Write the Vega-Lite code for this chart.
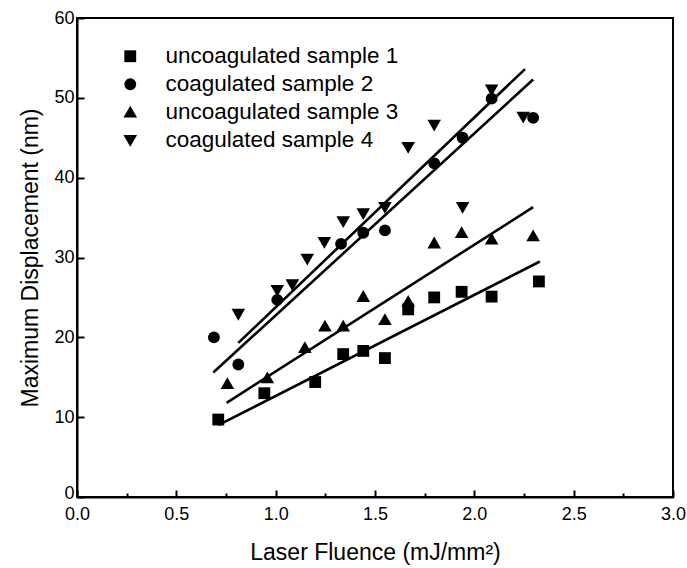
{
  "$schema": "https://vega.github.io/schema/vega-lite/v6.json",
  "autosize": {"type": "none"},
  "width": 596,
  "height": 479,
  "padding": {"left": 77, "top": 18, "right": 14, "bottom": 71},
  "background": "white",
  "config": {
    "font": "Liberation Sans",
    "view": {"stroke": "#000", "strokeWidth": 2},
    "axis": {"grid": false, "domainColor": "#000", "domainWidth": 2, "tickColor": "#000", "tickWidth": 2, "labelColor": "#000", "titleColor": "#000", "labelFont": "Liberation Sans", "titleFont": "Liberation Sans", "titleFontWeight": "normal"}
  },
  "datasets": {
    "points": [
      {"sample": "uncoagulated sample 1", "fluence": 0.711, "disp": 9.7},
      {"sample": "uncoagulated sample 1", "fluence": 0.943, "disp": 13.0},
      {"sample": "uncoagulated sample 1", "fluence": 1.199, "disp": 14.4},
      {"sample": "uncoagulated sample 1", "fluence": 1.340, "disp": 17.9},
      {"sample": "uncoagulated sample 1", "fluence": 1.441, "disp": 18.3},
      {"sample": "uncoagulated sample 1", "fluence": 1.550, "disp": 17.4},
      {"sample": "uncoagulated sample 1", "fluence": 1.667, "disp": 23.5},
      {"sample": "uncoagulated sample 1", "fluence": 1.798, "disp": 25.0},
      {"sample": "uncoagulated sample 1", "fluence": 1.936, "disp": 25.7},
      {"sample": "uncoagulated sample 1", "fluence": 2.087, "disp": 25.1},
      {"sample": "uncoagulated sample 1", "fluence": 2.325, "disp": 27.0},
      {"sample": "coagulated sample 2", "fluence": 0.689, "disp": 20.0},
      {"sample": "coagulated sample 2", "fluence": 0.812, "disp": 16.6},
      {"sample": "coagulated sample 2", "fluence": 1.008, "disp": 24.7},
      {"sample": "coagulated sample 2", "fluence": 1.329, "disp": 31.7},
      {"sample": "coagulated sample 2", "fluence": 1.441, "disp": 33.1},
      {"sample": "coagulated sample 2", "fluence": 1.550, "disp": 33.4},
      {"sample": "coagulated sample 2", "fluence": 1.798, "disp": 41.8},
      {"sample": "coagulated sample 2", "fluence": 1.941, "disp": 45.0},
      {"sample": "coagulated sample 2", "fluence": 2.087, "disp": 49.9},
      {"sample": "coagulated sample 2", "fluence": 2.296, "disp": 47.5},
      {"sample": "uncoagulated sample 3", "fluence": 0.757, "disp": 14.2},
      {"sample": "uncoagulated sample 3", "fluence": 0.958, "disp": 14.9},
      {"sample": "uncoagulated sample 3", "fluence": 1.147, "disp": 18.7},
      {"sample": "uncoagulated sample 3", "fluence": 1.248, "disp": 21.4},
      {"sample": "uncoagulated sample 3", "fluence": 1.340, "disp": 21.4},
      {"sample": "uncoagulated sample 3", "fluence": 1.441, "disp": 25.1},
      {"sample": "uncoagulated sample 3", "fluence": 1.550, "disp": 22.2},
      {"sample": "uncoagulated sample 3", "fluence": 1.667, "disp": 24.5},
      {"sample": "uncoagulated sample 3", "fluence": 1.798, "disp": 31.8},
      {"sample": "uncoagulated sample 3", "fluence": 1.936, "disp": 33.1},
      {"sample": "uncoagulated sample 3", "fluence": 2.087, "disp": 32.3},
      {"sample": "uncoagulated sample 3", "fluence": 2.296, "disp": 32.7},
      {"sample": "coagulated sample 4", "fluence": 0.812, "disp": 22.9},
      {"sample": "coagulated sample 4", "fluence": 1.008, "disp": 25.9},
      {"sample": "coagulated sample 4", "fluence": 1.084, "disp": 26.6},
      {"sample": "coagulated sample 4", "fluence": 1.159, "disp": 29.8},
      {"sample": "coagulated sample 4", "fluence": 1.245, "disp": 31.9},
      {"sample": "coagulated sample 4", "fluence": 1.340, "disp": 34.5},
      {"sample": "coagulated sample 4", "fluence": 1.441, "disp": 35.5},
      {"sample": "coagulated sample 4", "fluence": 1.550, "disp": 36.3},
      {"sample": "coagulated sample 4", "fluence": 1.667, "disp": 43.8},
      {"sample": "coagulated sample 4", "fluence": 1.798, "disp": 46.6},
      {"sample": "coagulated sample 4", "fluence": 1.941, "disp": 36.3},
      {"sample": "coagulated sample 4", "fluence": 2.087, "disp": 51.0},
      {"sample": "coagulated sample 4", "fluence": 2.246, "disp": 47.6}
    ],
    "fits": [
      {"sample": "uncoagulated sample 1", "fluence": 0.711, "disp": 9.0},
      {"sample": "uncoagulated sample 1", "fluence": 2.330, "disp": 29.5},
      {"sample": "coagulated sample 2", "fluence": 0.686, "disp": 15.6},
      {"sample": "coagulated sample 2", "fluence": 2.296, "disp": 52.3},
      {"sample": "uncoagulated sample 3", "fluence": 0.753, "disp": 11.8},
      {"sample": "uncoagulated sample 3", "fluence": 2.296, "disp": 36.3},
      {"sample": "coagulated sample 4", "fluence": 0.812, "disp": 19.3},
      {"sample": "coagulated sample 4", "fluence": 2.255, "disp": 53.6}
    ]
  },
  "layer": [
    {
      "data": {"name": "fits"},
      "mark": {"type": "line", "color": "#000", "strokeWidth": 2.6},
      "encoding": {
        "x": {"field": "fluence", "type": "quantitative"},
        "y": {"field": "disp", "type": "quantitative"},
        "detail": {"field": "sample"}
      }
    },
    {
      "data": {"name": "points"},
      "mark": {"type": "point", "filled": true, "opacity": 1, "color": "#000"},
      "encoding": {
        "x": {
          "field": "fluence", "type": "quantitative",
          "scale": {"domain": [0, 3], "nice": false, "zero": false},
          "axis": {
            "title": "Laser Fluence (mJ/mm²)",
            "values": [0, 0.25, 0.5, 0.75, 1, 1.25, 1.5, 1.75, 2, 2.25, 2.5, 2.75, 3],
            "labelExpr": "datum.value % 0.5 == 0 ? format(datum.value, '.1f') : ''",
            "tickSize": {"condition": {"test": "datum.value % 0.5 == 0", "value": -7}, "value": -4},
            "labelFontSize": 18,
            "labelPadding": 15,
            "titleFontSize": 23,
            "titlePadding": 15,
            "labelFlush": false,
            "labelOverlap": false
          }
        },
        "y": {
          "field": "disp", "type": "quantitative",
          "scale": {"domain": [0, 60], "nice": false, "zero": false},
          "axis": {
            "title": "Maximum Displacement (nm)",
            "values": [0, 5, 10, 15, 20, 25, 30, 35, 40, 45, 50, 55, 60],
            "labelExpr": "datum.value % 10 == 0 ? format(datum.value, 'd') : ''",
            "labelOffset": {"condition": {"test": "datum.value == 0", "value": -4}, "value": 0},
            "tickSize": {"condition": {"test": "datum.value % 10 == 0", "value": -7}, "value": -4},
            "labelFontSize": 18,
            "labelPadding": 10,
            "titleFontSize": 23,
            "titlePadding": 11,
            "labelFlush": false,
            "labelOverlap": false
          }
        },
        "shape": {
          "field": "sample", "type": "nominal",
          "scale": {
            "domain": ["uncoagulated sample 1", "coagulated sample 2", "uncoagulated sample 3", "coagulated sample 4"],
            "range": ["square", "circle", "M0,-1.1L1.15,0.9L-1.15,0.9Z", "M0,1.1L1.15,-0.9L-1.15,-0.9Z"]
          },
          "legend": {
            "title": null,
            "orient": "none",
            "legendX": 42,
            "legendY": 27,
            "labelFontSize": 22.5,
            "labelFont": "Liberation Sans",
            "labelColor": "#000",
            "labelLimit": 500,
            "symbolFillColor": "#000",
            "symbolStrokeColor": "#000",
            "symbolSize": 140,
            "symbolOffset": 0,
            "labelOffset": 24,
            "rowPadding": 5
          }
        },
        "size": {"value": 140}
      }
    }
  ]
}
